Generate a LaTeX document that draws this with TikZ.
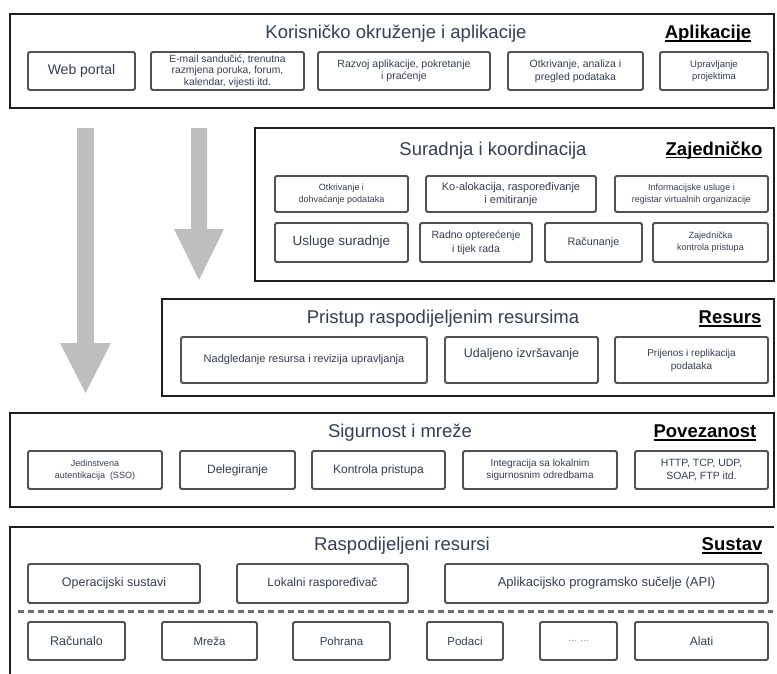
\documentclass[tikz,border=0pt]{standalone}
\usepackage{fontspec}
\setmainfont{Liberation Sans}
\definecolor{txt}{RGB}{52,62,84}
\definecolor{boxline}{RGB}{82,82,82}
\definecolor{layerline}{RGB}{30,30,30}
\definecolor{flowgray}{RGB}{190,190,190}
\definecolor{sepgray}{RGB}{110,110,110}
\newcommand\fsz[2]{\fontsize{#1}{#2}\selectfont}
% bold label with a rule a fixed distance under the baseline
\newcommand\ulbar[1]{\setbox0\hbox{#1}\rlap{\rule[-3.2pt]{\wd0}{1.7pt}}\box0}
\tikzset{
  boxat/.style args={#1/#2/#3/#4}{minimum width={#3-#1}, minimum height={#4-#2},
    at={({(#1+#3)/2},{(#2+#4)/2})}},
  layer/.style={draw=layerline, line width=2pt, inner sep=0pt},
  item/.style={draw=boxline, line width=1.8pt, rounded corners=1.5pt, fill=white,
    align=center, text=txt, inner sep=1pt},
  ttl/.style={anchor=base, text=txt, font=\fsz{18.5}{21}},
  tag/.style={anchor=base, font=\bfseries\fsz{18.5}{21}},
  sepline/.style={draw=sepgray, line width=3pt, dash pattern=on 6pt off 4pt},
}
\begin{document}
\begin{tikzpicture}[x=1pt,y=-1pt]
\useasboundingbox (0,0) rectangle (777,673);

% ---- layer frames
\node[layer, boxat=10/14/774/108] (L1) {};
\node[layer, boxat=255/128/774/281] (L2) {};
\node[layer, boxat=162/299/774/396] (L3) {};
\node[layer, boxat=10/413/774/507] (L4) {};
\node[inner sep=0pt, boxat=10/527/774/700] (L5) {};
\draw[layerline, line width=2pt] (L5.north east) -- (L5.north west) -- (L5.south west);

% ---- downward flow arrows
\fill[flowgray] (77,128) -- (94,128) -- (94,343) -- (111,343) -- (85.5,393)
  -- (60,343) -- (77,343) -- cycle;
\fill[flowgray] (191,128) -- (207,128) -- (207,229) -- (224,229) -- (199,280)
  -- (174,229) -- (191,229) -- cycle;

% ---- layer 1: applications
\node[ttl] (t1) at (396,38.5) {Korisničko okruženje i aplikacije};
\node[tag] (g1) at (708,38.5) {\ulbar{Aplikacije}};
\node[item, boxat=28/52/135/90, font=\fsz{14}{16}] (wp) {Web portal};
\node[item, boxat=151/52/304/90, font=\fsz{10.3}{11.5}] (em)
  {E-mail sandučić, trenutna\\razmjena poruka, forum,\\kalendar, vijesti itd.};
\node[item, boxat=318/52/490/90, font=\fsz{10.5}{12.5}] (rz)
  {Razvoj aplikacije, pokretanje\\i praćenje};
\node[item, boxat=508/52/643/90, font=\fsz{10.5}{13}] (ot)
  {Otkrivanje, analiza i\\pregled podataka};
\node[item, boxat=660/52/768/90, font=\fsz{9.5}{12}] (up)
  {Upravljanje\\projektima};

% ---- layer 2: collaboration
\node[ttl] (t2) at (493,155) {Suradnja i koordinacija};
\node[tag] (g2) at (714,155) {\ulbar{Zajedničko}};
\node[item, boxat=275/176/408/212, font=\fsz{9}{11.5}] (od)
  {Otkrivanje i\\dohvaćanje podataka};
\node[item, boxat=426/176/596/212, font=\fsz{11}{13.5}] (ka)
  {Ko-alokacija, raspoređivanje\\i emitiranje};
\node[item, boxat=615/176/768/212, font=\fsz{9}{12}] (ir)
  {Informacijske usluge i\\registar virtualnih organizacije};
\node[item, boxat=275/223/408/262, font=\fsz{13.5}{16}] (us) {Usluge suradnje};
\node[item, boxat=420/223/532/262, font=\fsz{10.5}{13.5}] (ro)
  {Radno opterećenje\\i tijek rada};
\node[item, boxat=545/223/642/262, font=\fsz{10.8}{13}] (ra) {Računanje};
\node[item, boxat=653/223/768/262, font=\fsz{9}{12}] (zk)
  {Zajednička\\kontrola pristupa};

% ---- layer 3: resources
\node[ttl] (t3) at (443,323.5) {Pristup raspodijeljenim resursima};
\node[tag] (g3) at (730,323.5) {\ulbar{Resurs}};
\node[item, boxat=181/337/427/383, font=\fsz{11}{13}] (nr)
  {Nadgledanje resursa i revizija upravljanja};
\node[item, boxat=445/337/598/383, font=\fsz{12.5}{14}] (ui)
  {Udaljeno izvršavanje\\\mbox{}};
\node[item, boxat=615/337/768/383, font=\fsz{10}{13}] (pr)
  {Prijenos i replikacija\\podataka};

% ---- layer 4: connectivity
\node[ttl] (t4) at (400,437.5) {Sigurnost i mreže};
\node[tag] (g4) at (705,437.5) {\ulbar{Povezanost}};
\node[item, boxat=28/451/162/489, font=\fsz{9}{12}] (je)
  {Jedinstvena\\autentikacija~~(SSO)};
\node[item, boxat=180/451/295/489, font=\fsz{12}{14}] (de) {Delegiranje};
\node[item, boxat=312/451/445/489, font=\fsz{12}{14}] (kp) {Kontrola pristupa};
\node[item, boxat=463/451/617/489, font=\fsz{10}{12.5}] (is)
  {Integracija sa lokalnim\\sigurnosnim odredbama};
\node[item, boxat=635/451/768/489, font=\fsz{10.5}{13}] (ht)
  {HTTP, TCP, UDP,\\SOAP, FTP itd.};

% ---- layer 5: system
\node[ttl] (t5) at (402,550.5) {Raspodijeljeni resursi};
\node[tag] (g5) at (732,550.5) {\ulbar{Sustav}};
\node[item, boxat=28/564/200/603, font=\fsz{12.5}{14}] (os) {Operacijski sustavi};
\node[item, boxat=237/564/408/603, font=\fsz{12}{14}] (lr) {Lokalni raspoređivač};
\node[item, boxat=445/564/768/603, font=\fsz{13}{15}] (api)
  {Aplikacijsko programsko sučelje (API)};
\coordinate (sepL) at (18,611);
\coordinate (sepR) at (773,611);
\draw[sepline] (sepL) -- (sepR);
\node[item, boxat=28/622/125/660, font=\fsz{12.5}{14}] (rc) {Računalo};
\node[item, boxat=162/622/257/660, font=\fsz{11.5}{14}] (mr) {Mreža};
\node[item, boxat=293/622/390/660, font=\fsz{11.5}{14}] (ph) {Pohrana};
\node[item, boxat=427/622/503/660, font=\fsz{11.5}{14}] (pd) {Podaci};
\node[item, boxat=540/622/617/660, font=\fsz{10}{12}, text=txt!60] (dt) {... ...};
\node[item, boxat=635/622/768/660, font=\fsz{12}{14}] (al) {Alati};
\end{tikzpicture}
\end{document}
